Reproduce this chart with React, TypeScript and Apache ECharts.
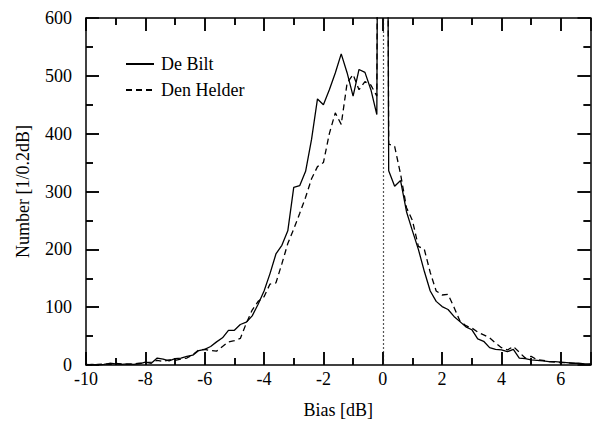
import React, { useEffect, useRef } from "react";
import * as echarts from "echarts";

const bins = [
  -10, -9.8, -9.6, -9.4, -9.2, -9.0, -8.8, -8.6, -8.4, -8.2,
  -8.0, -7.8, -7.6, -7.4, -7.2, -7.0, -6.8, -6.6, -6.4, -6.2,
  -6.0, -5.8, -5.6, -5.4, -5.2, -5.0, -4.8, -4.6, -4.4, -4.2,
  -4.0, -3.8, -3.6, -3.4, -3.2, -3.0, -2.8, -2.6, -2.4, -2.2,
  -2.0, -1.8, -1.6, -1.4, -1.2, -1.0, -0.8, -0.6, -0.4, -0.2,
  0.0, 0.2, 0.4, 0.6, 0.8, 1.0, 1.2, 1.4, 1.6, 1.8,
  2.0, 2.2, 2.4, 2.6, 2.8, 3.0, 3.2, 3.4, 3.6, 3.8,
  4.0, 4.2, 4.4, 4.6, 4.8, 5.0, 5.2, 5.4, 5.6, 5.8,
  6.0, 6.2, 6.4, 6.6, 6.8, 7.0,
];

const deBilt = [
  0, 1, 0, 1, 3, 2, 1, 2, 1, 2,
  5, 3, 12, 10, 7, 11, 12, 15, 17, 25,
  27, 32, 40, 47, 60, 60, 70, 74, 85, 105,
  128, 158, 192, 207, 232, 307, 310, 335, 390, 460,
  450, 476, 505, 538, 505, 465, 511, 506, 476, 433,
  3000, 336, 309, 319, 265, 232, 200, 162, 128, 110,
  101, 96, 84, 75, 66, 61, 45, 41, 30, 27,
  26, 23, 27, 12, 11, 9, 8, 7, 6, 6,
  5, 4, 3, 3, 2, 2,
];

const denHelder = [
  1, 0, 1, 2, 1, 3, 2, 1, 2, 3,
  4, 5, 8, 6, 9, 8, 10, 12, 18, 26,
  27, 25, 24, 32, 40, 42, 46, 72, 95, 110,
  118, 140, 142, 175, 210, 235, 262, 290, 322, 343,
  350, 400, 436, 416, 488, 502, 476, 490, 484, 465,
  3000, 382, 378, 330, 272, 250, 205, 200, 160, 128,
  121, 122, 100, 76, 68, 64, 57, 52, 47, 38,
  30, 26, 32, 22, 12, 15, 9, 8, 6, 5,
  4, 4, 3, 2, 1, 1,
];

// tick positions (major ticks carry labels)
const xMajorTicks = [-10, -8, -6, -4, -2, 0, 2, 4, 6];
const xMinorTicks = [-9, -7, -5, -3, -1, 1, 3, 5];
const yMajorTicks = [100, 200, 300, 400, 500];
const yMinorTicks = [50, 150, 250, 350, 450, 550];

const seriesNames = ["De Bilt", "Den Helder"];
const xName = "Bias [dB]";
const yName = "Number [1/0.2dB]";

const FONT = "'Liberation Serif', 'Times New Roman', serif";
const X_MIN = -10, X_MAX = 7, Y_MIN = 0, Y_MAX = 600;
const W = 592, H = 424;
const GRID = { left: 86, right: 1.5, top: 18, bottom: 57 };
const MAJOR_LEN = 13, MINOR_LEN = 7;

function tickMarkLines() {
  const plotW = W - GRID.left - GRID.right;
  const plotH = H - GRID.top - GRID.bottom;
  const yUnits = (px: number) => (px * (Y_MAX - Y_MIN)) / plotH;
  const xUnits = (px: number) => (px * (X_MAX - X_MIN)) / plotW;
  const out: any[] = [];
  const addX = (v: number, len: number) => {
    out.push([{ coord: [v, Y_MIN] }, { coord: [v, Y_MIN + yUnits(len)] }]);
    out.push([{ coord: [v, Y_MAX] }, { coord: [v, Y_MAX - yUnits(len)] }]);
  };
  const addY = (v: number, len: number) => {
    out.push([{ coord: [X_MIN, v] }, { coord: [X_MIN + xUnits(len), v] }]);
    out.push([{ coord: [X_MAX, v] }, { coord: [X_MAX - xUnits(len), v] }]);
  };
  xMajorTicks.forEach((v) => addX(v, MAJOR_LEN));
  xMinorTicks.forEach((v) => addX(v, MINOR_LEN));
  yMajorTicks.forEach((v) => addY(v, MAJOR_LEN));
  yMinorTicks.forEach((v) => addY(v, MINOR_LEN));
  return out;
}

export default function App() {
  const ref = useRef<HTMLDivElement>(null);
  useEffect(() => {
    if (!ref.current) return;
    const chart = echarts.init(ref.current, null, { renderer: "svg" });
    const parts = () => ({
      axisLine: { show: true, onZero: false, lineStyle: { color: "#000", width: 1.5 } },
      axisTick: { show: true, inside: true, length: MAJOR_LEN, lineStyle: { color: "#000", width: 1.5 } },
      minorTick: { show: true, splitNumber: 2, length: MINOR_LEN, lineStyle: { color: "#000", width: 1.5 } },
    });
    const labelStyle = { color: "#000", fontFamily: FONT, fontSize: 18 };
    chart.setOption({
      animation: false,
      backgroundColor: "#fff",
      grid: { ...GRID, containLabel: false },
      legend: {
        orient: "vertical",
        left: 120,
        top: 50,
        itemWidth: 28,
        itemHeight: 14,
        itemGap: 8,
        data: seriesNames,
        itemStyle: { opacity: 0 },
        textStyle: { ...labelStyle, padding: [0, 0, 0, 2] },
      },
      xAxis: [
        {
          type: "value",
          min: X_MIN,
          max: X_MAX,
          interval: 2,
          position: "bottom",
          name: xName,
          nameLocation: "middle",
          nameGap: 36,
          nameTextStyle: labelStyle,
          ...parts(),
          splitLine: { show: false },
          axisLabel: { ...labelStyle, margin: 5, showMaxLabel: false },
        },
        {
          type: "value",
          min: X_MIN,
          max: X_MAX,
          interval: 2,
          position: "top",
          ...parts(),
          splitLine: { show: false },
          axisLabel: { show: false },
        },
      ],
      yAxis: [
        {
          type: "value",
          min: Y_MIN,
          max: Y_MAX,
          interval: 100,
          position: "left",
          name: yName,
          nameLocation: "middle",
          nameGap: 54,
          nameTextStyle: labelStyle,
          ...parts(),
          splitLine: { show: false },
          axisLabel: { ...labelStyle, margin: 14 },
        },
        {
          type: "value",
          min: Y_MIN,
          max: Y_MAX,
          interval: 100,
          position: "right",
          ...parts(),
          splitLine: { show: false },
          axisLabel: { show: false },
        },
      ],
      series: [
        {
          name: seriesNames[0],
          type: "line",
          symbol: "none",
          clip: true,
          data: bins.map((b, i) => [b, deBilt[i]]),
          lineStyle: { color: "#000", width: 1.3, type: "solid" },
          itemStyle: { color: "#000" },
          markLine: {
            silent: true,
            symbol: "none",
            label: { show: false },
            lineStyle: { color: "#555", type: [2, 2], width: 1.2 },
            data: [{ xAxis: 0 }],
          },
        },
        {
          name: seriesNames[1],
          type: "line",
          symbol: "none",
          clip: true,
          data: bins.map((b, i) => [b, denHelder[i]]),
          lineStyle: { color: "#000", width: 1.3, type: [6, 4] },
          itemStyle: { color: "#000" },
          markLine: {
            silent: true,
            symbol: "none",
            label: { show: false },
            lineStyle: { color: "#000", type: "solid", width: 1.5 },
            data: tickMarkLines(),
          },
        },
      ],
    });
    return () => chart.dispose();
  }, []);
  return (
    <div
      ref={ref}
      style={{ position: "fixed", left: 0, top: 0, width: W, height: H, background: "#fff" }}
    />
  );
}
